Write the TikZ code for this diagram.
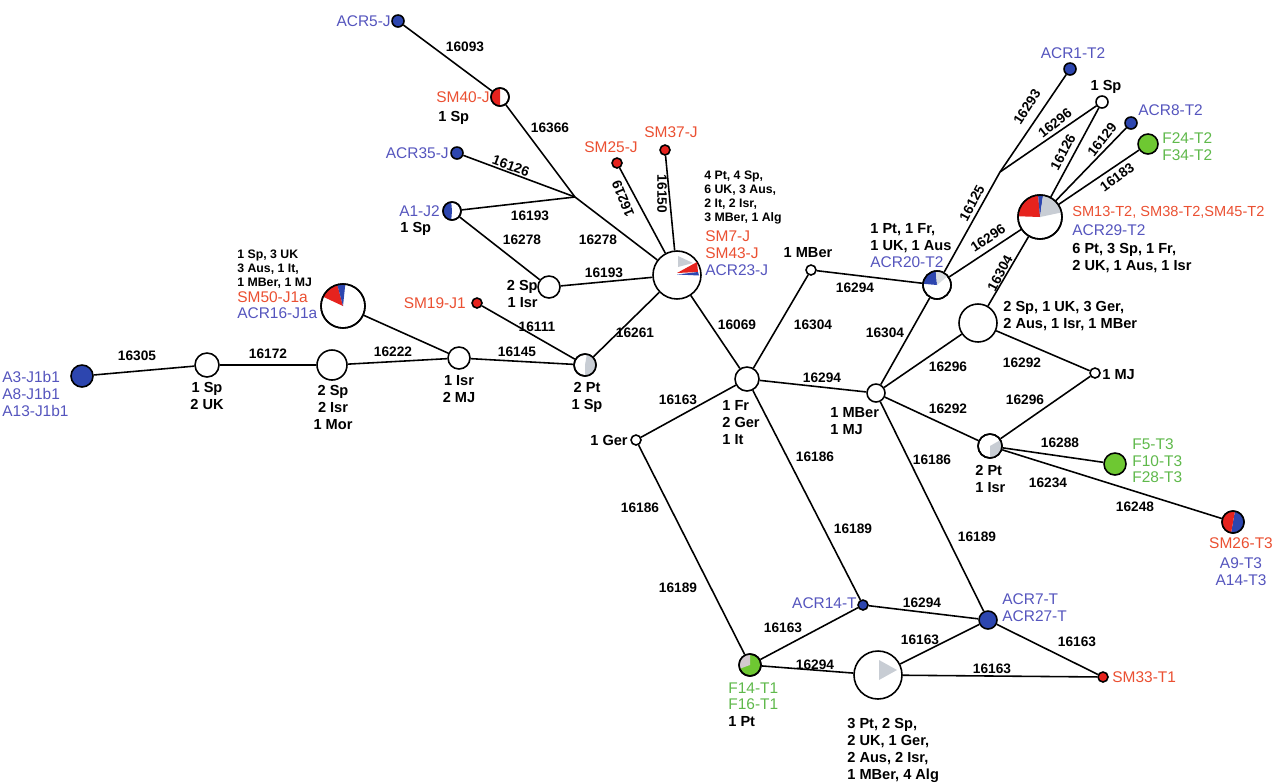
\documentclass[tikz,border=0pt]{standalone}
\usepackage{fontspec}
\setmainfont{Liberation Sans}
\usetikzlibrary{calc}
\definecolor{nblue}{RGB}{45,70,175}
\definecolor{nred}{RGB}{230,35,30}
\definecolor{ngreen}{RGB}{110,200,50}
\definecolor{ngray}{RGB}{200,205,212}
\definecolor{tblue}{RGB}{85,85,190}
\definecolor{tred}{RGB}{235,80,50}
\definecolor{tgreen}{RGB}{95,185,75}
\newcommand\pieslice[5]{\fill[#5] (#1.center) -- ++(#2:#4*0.02cm) arc[start angle=#2, end angle=#3, radius=#4*0.02cm] -- cycle;}
\newcommand\reborder[2]{\draw[line width=0.9pt] (#1.center) circle[radius=#2*0.02cm];}
\begin{document}
\begin{tikzpicture}[x=0.02cm,y=-0.02cm,
  hap/.style={circle, draw=black, line width=0.9pt, fill=white, inner sep=0pt, minimum size=#1*0.4mm},
  edge/.style={line width=0.9pt, black},
  ctext/.style={font=\fontsize{8.8}{9.6}\selectfont, inner sep=0pt, align=left},
  btext/.style={font=\fontsize{8.3}{9.6}\selectfont\bfseries, inner sep=0pt, align=left},
  stext/.style={font=\fontsize{7}{7.9}\selectfont\bfseries, inner sep=0pt, align=left},
  elab/.style={font=\fontsize{7.8}{9}\selectfont\bfseries, inner sep=0pt}]
\fill[white] (0,0) rectangle (1274,782);
\useasboundingbox (0,0) rectangle (1274,782);
% nodes
\node[hap=11, fill=nblue] (A3) at (82,376) {};
\node[hap=12] (n1) at (207,365) {};
\node[hap=15] (n2) at (332,365) {};
\node[hap=11] (n3) at (459,358) {};
\node[hap=11] (n4) at (585,365) {};
\node[hap=22] (SM50) at (343,306) {};
\node[hap=5, fill=nred] (SM19) at (477,303) {};
\node[hap=11] (n5) at (549,287) {};
\node[hap=24] (J) at (677,275) {};
\node[hap=9] (A1) at (452,211) {};
\node[hap=6, fill=nblue] (ACR35) at (457,153) {};
\coordinate (jA) at (575,197);
\node[hap=9] (SM40) at (500,97) {};
\node[hap=6, fill=nblue] (ACR5) at (398,21) {};
\node[hap=5, fill=nred] (SM25) at (617,163) {};
\node[hap=5, fill=nred] (SM37) at (665,150) {};
\node[hap=12] (Fr) at (747,379) {};
\node[hap=5] (MBer1) at (811,270) {};
\node[hap=14] (ACR20) at (937,285) {};
\node[hap=9] (MBerMJ) at (876,393) {};
\node[hap=5] (Ger) at (636,440) {};
\node[hap=12] (P1I) at (990,446) {};
\node[hap=5] (MJ1) at (1095,373) {};
\node[hap=19] (bigmid) at (978,323) {};
\node[hap=22] (T2) at (1040,217) {};
\coordinate (jB) at (1000,172);
\node[hap=6, fill=nblue] (ACR1) at (1070,69) {};
\node[hap=6] (Sp1) at (1102,102) {};
\node[hap=6, fill=nblue] (ACR8) at (1131,123) {};
\node[hap=10, fill=ngreen] (F24) at (1148,144) {};
\node[hap=11, fill=ngreen] (F5) at (1115,464) {};
\node[hap=11] (SM26) at (1233,522) {};
\node[hap=5, fill=nblue] (ACR14) at (863,605) {};
\node[hap=9, fill=nblue] (ACR7) at (988,620) {};
\node[hap=11, fill=ngreen] (F14) at (750,665) {};
\node[hap=24] (bot) at (878,675) {};
\node[hap=5, fill=nred] (SM33) at (1103,677) {};
% edges
\draw[edge] (A3) -- (n1);
\draw[edge] (n1) -- (n2);
\draw[edge] (n2) -- (n3);
\draw[edge] (n3) -- (n4);
\draw[edge] (SM50) -- (n3);
\draw[edge] (SM19) -- (n4);
\draw[edge] (n4) -- (J);
\draw[edge] (n5) -- (J);
\draw[edge] (A1) -- (n5);
\draw[edge] (A1) -- (jA);
\draw[edge] (ACR35) -- (jA);
\draw[edge] (SM40) -- (jA);
\draw[edge] (jA) -- (J);
\draw[edge] (ACR5) -- (SM40);
\draw[edge] (SM25) -- (J);
\draw[edge] (SM37) -- (J);
\draw[edge] (J) -- (Fr);
\draw[edge] (Fr) -- (MBer1);
\draw[edge] (MBer1) -- (ACR20);
\draw[edge] (Fr) -- (MBerMJ);
\draw[edge] (ACR20) -- (MBerMJ);
\draw[edge] (Fr) -- (Ger);
\draw[edge] (Ger) -- (F14);
\draw[edge] (Fr) -- (ACR14);
\draw[edge] (MBerMJ) -- (ACR7);
\draw[edge] (bigmid) -- (MBerMJ);
\draw[edge] (bigmid) -- (MJ1);
\draw[edge] (MBerMJ) -- (P1I);
\draw[edge] (MJ1) -- (P1I);
\draw[edge] (P1I) -- (F5);
\draw[edge] (P1I) -- (SM26);
\draw[edge] (T2) -- (ACR20);
\draw[edge] (T2) -- (bigmid);
\draw[edge] (ACR20) -- (jB);
\draw[edge] (jB) -- (ACR1);
\draw[edge] (jB) -- (Sp1);
\draw[edge] (T2) -- (Sp1);
\draw[edge] (T2) -- (ACR8);
\draw[edge] (T2) -- (F24);
\draw[edge] (F14) -- (ACR14);
\draw[edge] (ACR14) -- (ACR7);
\draw[edge] (F14) -- (bot);
\draw[edge] (bot) -- (ACR7);
\draw[edge] (bot) -- (SM33);
\draw[edge] (ACR7) -- (SM33);
% pie slices
\pieslice{SM40}{90}{270}{8.5}{nred}\reborder{SM40}{9}
\pieslice{A1}{95}{265}{8.5}{nblue}\reborder{A1}{9}
\pieslice{SM50}{105}{155}{21.5}{nred}
\pieslice{SM50}{84}{105}{21.5}{nblue}\reborder{SM50}{22}
\pieslice{n4}{-90}{80}{10.5}{ngray}\reborder{n4}{11}
\fill[ngray] (678,256) -- (678,267) -- (693,263) -- cycle;
\fill[nred] (677,273) -- (697,262) -- (698,272) -- cycle;
\fill[nblue] (677,274.5) -- (698,272) -- (699,275.5) -- cycle;
\pieslice{ACR20}{95}{175}{13.5}{nblue}
\pieslice{ACR20}{40}{95}{13.5}{ngray!70}\reborder{ACR20}{14}
\pieslice{T2}{95}{178}{21.5}{nred}
\pieslice{T2}{82}{95}{21.5}{nblue}
\pieslice{T2}{12}{82}{21.5}{ngray}\reborder{T2}{22}
\pieslice{P1I}{-90}{30}{11.5}{ngray}\reborder{P1I}{12}
\pieslice{SM26}{-100}{80}{10.5}{nblue}
\pieslice{SM26}{80}{260}{10.5}{nred}\reborder{SM26}{11}
\pieslice{F14}{90}{200}{10.5}{ngray!80!pink}\reborder{F14}{11}
\fill[ngray] (879,660) -- (879,680) -- (897,670) -- cycle;
% node labels
\node[ctext, text=tblue, anchor=north west] (lA3) at (2,371) {A3-J1b1\\A8-J1b1\\A13-J1b1};
\node[btext, align=center, anchor=north] (ln1) at (207,382) {1 Sp\\2 UK};
\node[btext, align=center, anchor=north] (ln2) at (333,385) {2 Sp\\2 Isr\\1 Mor};
\node[btext, align=center, anchor=north] (ln3) at (459,375) {1 Isr\\2 MJ};
\node[btext, align=center, anchor=north] (ln4) at (587,382) {2 Pt\\1 Sp};
\node[stext, anchor=north west] (lSM50a) at (237,250) {1 Sp, 3 UK\\3 Aus, 1 It,\\1 MBer, 1 MJ};
\node[ctext, text=tred, anchor=west] (lSM50b) at (237,297) {SM50-J1a};
\node[ctext, text=tblue, anchor=west] (lSM50c) at (237,313) {ACR16-J1a};
\node[ctext, text=tred, anchor=east] (lSM19) at (466,303) {SM19-J1};
\node[btext, align=right, anchor=north east] (ln5) at (538,280) {2 Sp\\1 Isr};
\node[ctext, text=tblue, anchor=east] (lA1) at (440,211) {A1-J2};
\node[btext, anchor=west] (lA1b) at (400,229) {1 Sp};
\node[ctext, text=tblue, anchor=east] (lACR35) at (449,153) {ACR35-J};
\node[ctext, text=tred, anchor=east] (lSM40) at (490,97) {SM40-J};
\node[btext, anchor=west] (lSM40b) at (438,118) {1 Sp};
\node[ctext, text=tblue, anchor=east] (lACR5) at (391,21) {ACR5-J};
\node[ctext, text=tred] (lSM25) at (611,147) {SM25-J};
\node[ctext, text=tred] (lSM37) at (671,132) {SM37-J};
\node[stext, anchor=north west] (lJa) at (704,171) {4 Pt, 4 Sp,\\6 UK, 3 Aus,\\2 It, 2 Isr,\\3 MBer, 1 Alg};
\node[ctext, text=tred, anchor=north west] (lJb) at (705,230) {SM7-J\\SM43-J};
\node[ctext, text=tblue, anchor=west] (lJc) at (705,270) {ACR23-J};
\node[btext] (lMBer1) at (808,253) {1 MBer};
\node[btext, anchor=north west] (lACR20a) at (870,223) {1 Pt, 1 Fr,\\1 UK, 1 Aus};
\node[ctext, text=tblue, anchor=west] (lACR20b) at (870,262) {ACR20-T2};
\node[ctext, text=tblue] (lACR1) at (1073,53) {ACR1-T2};
\node[btext] (lSp1) at (1106,87) {1 Sp};
\node[ctext, text=tblue, anchor=west] (lACR8) at (1138,110) {ACR8-T2};
\node[ctext, text=tgreen, anchor=north west] (lF24) at (1162,132) {F24-T2\\F34-T2};
\node[ctext, text=tred, anchor=west, font=\fontsize{8.3}{9.6}\selectfont] (lT2a) at (1072,212) {SM13-T2, SM38-T2,SM45-T2};
\node[ctext, text=tblue, anchor=west] (lT2b) at (1072,230) {ACR29-T2};
\node[btext, anchor=north west] (lT2c) at (1072,243) {6 Pt, 3 Sp, 1 Fr,\\2 UK, 1 Aus, 1 Isr};
\node[btext, anchor=north west] (lbigmid) at (1003,301) {2 Sp, 1 UK, 3 Ger,\\2 Aus, 1 Isr, 1 MBer};
\node[btext, anchor=west] (lMJ1) at (1102,375) {1 MJ};
\node[btext, anchor=north west] (lMBerMJ) at (830,407) {1 MBer\\1 MJ};
\node[btext, anchor=north west] (lFr) at (722,400) {1 Fr\\2 Ger\\1 It};
\node[btext, anchor=east] (lGer) at (628,440) {1 Ger};
\node[btext, anchor=north west] (lP1I) at (975,465) {2 Pt\\1 Isr};
\node[ctext, text=tgreen, anchor=north west] (lF5) at (1132,438) {F5-T3\\F10-T3\\F28-T3};
\node[ctext, text=tred] (lSM26a) at (1241,543) {SM26-T3};
\node[ctext, text=tblue, align=center, anchor=north] (lSM26b) at (1241,557) {A9-T3\\A14-T3};
\node[ctext, text=tblue, anchor=east] (lACR14) at (857,603) {ACR14-T};
\node[ctext, text=tblue, anchor=north west] (lACR7) at (1002,593) {ACR7-T\\ACR27-T};
\node[ctext, text=tred, anchor=west] (lSM33) at (1112,677) {SM33-T1};
\node[ctext, text=tgreen, anchor=north west] (lF14) at (728,682) {F14-T1\\F16-T1};
\node[btext, anchor=west] (lF14b) at (728,722) {1 Pt};
\node[btext, anchor=north west] (lbot) at (847,718) {3 Pt, 2 Sp,\\2 UK, 1 Ger,\\2 Aus, 2 Isr,\\1 MBer, 4 Alg};
% edge labels
\node[elab] (e1) at (137,356) {16305};
\node[elab] (e2) at (268,354) {16172};
\node[elab] (e3) at (393,352) {16222};
\node[elab] (e4) at (517,352) {16145};
\node[elab] (e5) at (537,327) {16111};
\node[elab] (e6) at (635,333) {16261};
\node[elab] (e7) at (604,273) {16193};
\node[elab] (e8) at (598,240) {16278};
\node[elab] (e9) at (522,240) {16278};
\node[elab] (e10) at (530,216) {16193};
\node[elab, rotate=-20] (e11) at (511,166) {16126};
\node[elab] (e12) at (550,128) {16366};
\node[elab] (e13) at (465,47) {16093};
\node[elab, rotate=112] (e14) at (623,199) {16219};
\node[elab, rotate=-90] (e15) at (662,194) {16150};
\node[elab] (e16) at (737,325) {16069};
\node[elab] (e17) at (813,325) {16304};
\node[elab] (e18) at (855,288) {16294};
\node[elab] (e19) at (885,333) {16304};
\node[elab] (e20) at (822,378) {16294};
\node[elab] (e21) at (678,400) {16163};
\node[elab] (e22) at (815,457) {16186};
\node[elab] (e23) at (853,529) {16189};
\node[elab] (e24) at (640,508) {16186};
\node[elab] (e25) at (678,588) {16189};
\node[elab] (e26) at (932,460) {16186};
\node[elab] (e27) at (977,537) {16189};
\node[elab] (e28) at (948,409) {16292};
\node[elab] (e29) at (948,367) {16296};
\node[elab] (e30) at (1022,363) {16292};
\node[elab] (e31) at (1025,400) {16296};
\node[elab] (e32) at (1060,443) {16288};
\node[elab] (e33) at (1048,483) {16234};
\node[elab] (e34) at (1135,507) {16248};
\node[elab, rotate=33] (e35) at (988,238) {16296};
\node[elab, rotate=62] (e36) at (1000,273) {16304};
\node[elab, rotate=62] (e37) at (972,203) {16125};
\node[elab, rotate=57] (e38) at (1027,107) {16293};
\node[elab, rotate=38] (e39) at (1055,123) {16296};
\node[elab, rotate=62] (e40) at (1063,152) {16126};
\node[elab, rotate=52] (e41) at (1102,140) {16129};
\node[elab, rotate=36] (e42) at (1117,177) {16183};
\node[elab] (e43) at (922,603) {16294};
\node[elab] (e44) at (783,628) {16163};
\node[elab] (e45) at (815,665) {16294};
\node[elab] (e46) at (920,640) {16163};
\node[elab] (e47) at (992,669) {16163};
\node[elab] (e48) at (1077,642) {16163};
\end{tikzpicture}
\end{document}
